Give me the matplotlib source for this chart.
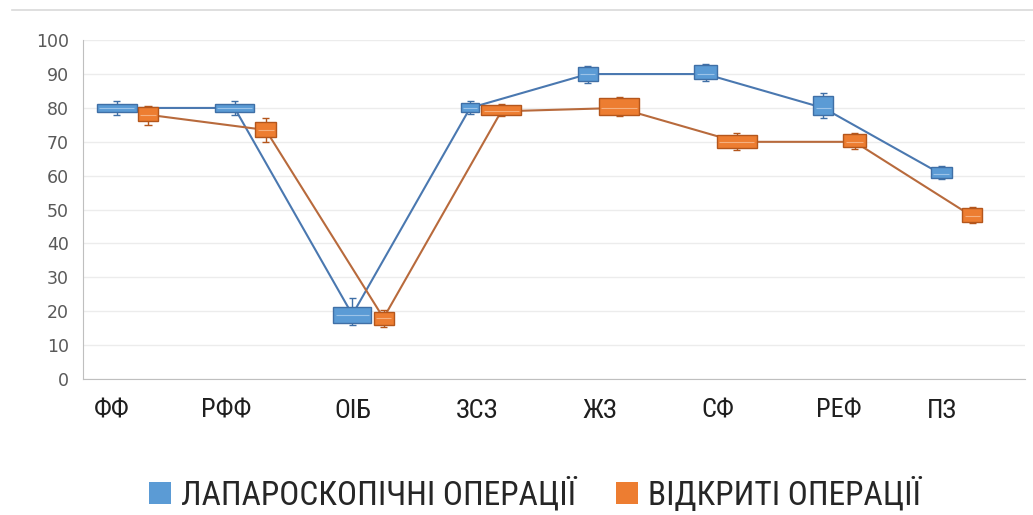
import matplotlib
matplotlib.use("Agg")
import matplotlib.pyplot as plt
from matplotlib import font_manager
from matplotlib.lines import Line2D
import numpy as np

# Категорії та значення для двох груп операцій
categories = ["ФФ", "РФФ", "ОІБ", "ЗСЗ", "ЖЗ", "СФ", "РЕФ", "ПЗ"]

lap_mean = [80, 80, 19, 80, 90, 90, 80, 60.5]
lap_q1 = [78.8, 78.8, 16.5, 78.8, 88, 88.5, 78, 59.3]
lap_q3 = [81.1, 81.1, 21.2, 81.4, 92, 92.6, 83.5, 62.5]
lap_low = [78, 78, 16, 78.3, 87.5, 88, 77, 59]
lap_high = [82, 82, 24, 82, 92.5, 93, 84.5, 63]

open_mean = [78, 73.5, 18, 79, 80, 70, 70, 48]
open_q1 = [76.1, 71.4, 15.9, 77.9, 77.9, 68.1, 68.4, 46.3]
open_q3 = [80.2, 75.8, 19.8, 80.8, 82.9, 72, 72.3, 50.4]
open_low = [75, 70, 15.5, 77.5, 77.5, 67.5, 68, 46]
open_high = [80.5, 77, 20.3, 81.2, 83.3, 72.5, 72.7, 50.8]

y_ticks = list(range(0, 101, 10))

# ширина боксів у частках категорії
lap_width = [0.34, 0.33, 0.32, 0.16, 0.17, 0.19, 0.17, 0.18]
open_width = [0.17, 0.18, 0.17, 0.34, 0.34, 0.34, 0.19, 0.17]
lap_shift = -0.21
open_shift = 0.055
label_shift = [-0.25, -0.28, -0.21, -0.15, -0.11, -0.11, -0.08, -0.20]


def pick_font(names):
    have = {f.name for f in font_manager.fontManager.ttflist}
    for n in names:
        if n in have:
            return n
    return "DejaVu Sans"


narrow = pick_font(["Liberation Sans Narrow", "DejaVu Sans Condensed", "Roboto Condensed", "Liberation Sans"])
plt.rcParams["font.family"] = [narrow, "DejaVu Sans"]

fig = plt.figure(figsize=(10.33, 5.15), dpi=100)
ax = fig.add_axes([0.080, 0.264, 0.912, 0.658])

x = np.arange(len(categories))

series = [
    (lap_mean, lap_q1, lap_q3, lap_low, lap_high, lap_width, lap_shift,
     "#5b9bd5", "#3f6fa6", "#4a78b0", "#9cc3e8", "ЛАПАРОСКОПІЧНІ ОПЕРАЦІЇ"),
    (open_mean, open_q1, open_q3, open_low, open_high, open_width, open_shift,
     "#ed7d31", "#b4561c", "#b86a3c", "#f5b07f", "ВІДКРИТІ ОПЕРАЦІЇ"),
]

handles = []
for mean, q1, q3, lo, hi, width, shift, face, edge, line_c, mid_c, name in series:
    xs = x + shift
    mean = np.array(mean)
    q1 = np.array(q1)
    q3 = np.array(q3)
    ax.plot(xs, mean, color=line_c, lw=1.5, zorder=3)
    ax.vlines(xs, lo, q1, color=edge, lw=1, zorder=3)
    ax.vlines(xs, q3, hi, color=edge, lw=1, zorder=3)
    ax.hlines(lo, xs - 0.03, xs + 0.03, color=edge, lw=1, zorder=3)
    ax.hlines(hi, xs - 0.03, xs + 0.03, color=edge, lw=1, zorder=3)
    ax.bar(xs, q3 - q1, width=width, bottom=q1, color=face,
           edgecolor=edge, linewidth=1, zorder=4)
    ax.hlines(mean, xs - np.array(width) / 2 + 0.02, xs + np.array(width) / 2 - 0.02,
              color=mid_c, lw=0.8, zorder=5)
    handles.append(plt.Rectangle((0, 0), 1, 1, facecolor=face, edgecolor="none", label=name))

ax.set_xlim(-0.5, len(categories) - 0.5)
ax.set_ylim(0, 100)
ax.set_yticks(y_ticks)
ax.tick_params(axis="y", length=0, labelsize=12.5, labelcolor="#595959", pad=10)
ax.set_yticklabels([str(t) for t in y_ticks], family="DejaVu Sans")
ax.grid(axis="y", color="#ececec", lw=1)
ax.set_axisbelow(True)
ax.set_xticks([])

for s in ["top", "right"]:
    ax.spines[s].set_visible(False)
ax.spines["left"].set_color("#bfbfbf")
ax.spines["bottom"].set_color("#bfbfbf")

# підписи категорій під віссю
for i, name in enumerate(categories):
    ax.text(i + label_shift[i], -9.3, name, ha="center", va="center",
            fontsize=19, color="#1f1f1f", transform=ax.transData, clip_on=False)

fig.legend(handles=handles, loc="center", bbox_to_anchor=(0.518, 0.04), ncol=2,
           frameon=False, fontsize=24, handlelength=0.65, handleheight=0.65,
           handletextpad=0.3, columnspacing=1.2, labelcolor="#262626")

# верхня межа області діаграми
fig.add_artist(Line2D([0.012, 1.0], [0.981, 0.981], color="#d9d9d9", lw=1.2))

fig.savefig("out.png", dpi=100)
